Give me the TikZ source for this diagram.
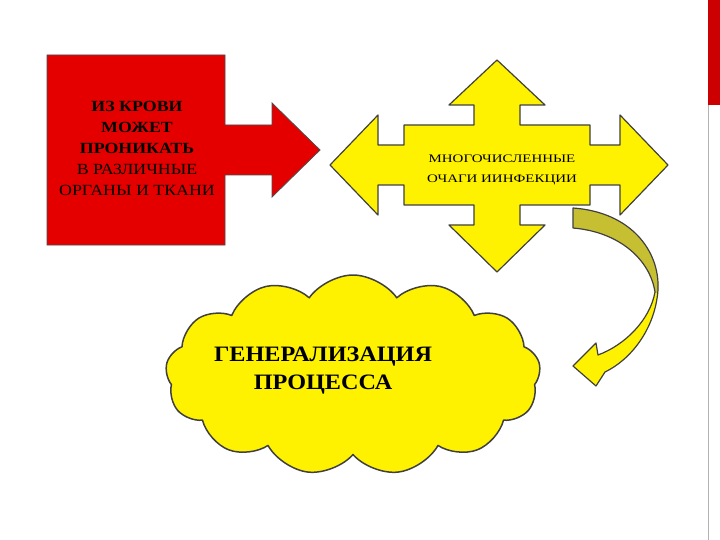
\documentclass[tikz,border=0pt]{standalone}
\usepackage{fontspec}
\setmainfont{Liberation Serif}
\usetikzlibrary{shapes.symbols}
\begin{document}
\begin{tikzpicture}[x=1pt,y=-1pt,
  outl/.style={draw=black!75,line width=1.2pt,line join=round}]
\useasboundingbox (0,0) rectangle (720,540);
\fill[white] (0,0) rectangle (720,540);
\draw[gray!60,line width=1pt] (708,0) -- (708,540);
\fill[red!80!black] (708,0) rectangle (720,105);
% red callout
\path[fill=red!90!black,draw=black!70,line width=0.8pt]
  (47,55) -- (225,55) -- (225,125) -- (272,125) -- (272,103) -- (320,150)
  -- (272,197) -- (272,175) -- (225,175) -- (225,245) -- (47,245) -- cycle;
\node[align=center,font=\fontsize{15.5}{21}\selectfont,xscale=1.15] (red) at (137,148) {\textbf{ИЗ КРОВИ}\\\textbf{МОЖЕТ}\\\textbf{ПРОНИКАТЬ}\\В РАЗЛИЧНЫЕ\\ОРГАНЫ И ТКАНИ};
% quad arrow
\path[fill=yellow,outl]
  (497,60) -- (545,105) -- (520,105) -- (520,125) -- (590,125) -- (590,145) -- (620,145) -- (620,115)
  -- (668,165) -- (620,215) -- (620,185) -- (590,185) -- (590,205) -- (520,205) -- (520,225) -- (545,225)
  -- (497,272) -- (449,225) -- (474,225) -- (474,205) -- (404,205) -- (404,185) -- (378,185) -- (378,215)
  -- (330,165) -- (378,115) -- (378,145) -- (404,145) -- (404,125) -- (474,125) -- (474,105) -- (449,105) -- cycle;
\node[align=center,font=\fontsize{11.5}{20}\selectfont,xscale=1.3] (quad) at (502,170) {МНОГОЧИСЛЕННЫЕ\\ОЧАГИ ИИНФЕКЦИИ};
% cloud
\node[cloud,cloud puffs=13,cloud puff arc=110,aspect=1.8,fill=yellow,outl,line width=1.5pt,
  minimum width=375pt,minimum height=200pt] (cl) at (353,375) {};
\node[align=center,font=\fontsize{22}{28}\selectfont\bfseries,xscale=1.1] (gen) at (323,371) {ГЕНЕРАЛИЗАЦИЯ\\ПРОЦЕССА};
% curved arrow
\def\arr{(573,208) .. controls (630,212) and (660,250) .. (658,290) .. controls (655,330) and (630,360) .. (605,372) -- (596,386) -- (573,366) -- (596,343) -- (598,355) .. controls (625,345) and (650,320) .. (655,292) .. controls (650,260) and (620,232) .. (573,228) -- cycle}
\fill[yellow] \arr;
\begin{scope}
\clip (560,200) rectangle (680,292);
\fill[yellow!75!black] \arr;
\end{scope}
\draw[outl] \arr;
\end{tikzpicture}
\end{document}
